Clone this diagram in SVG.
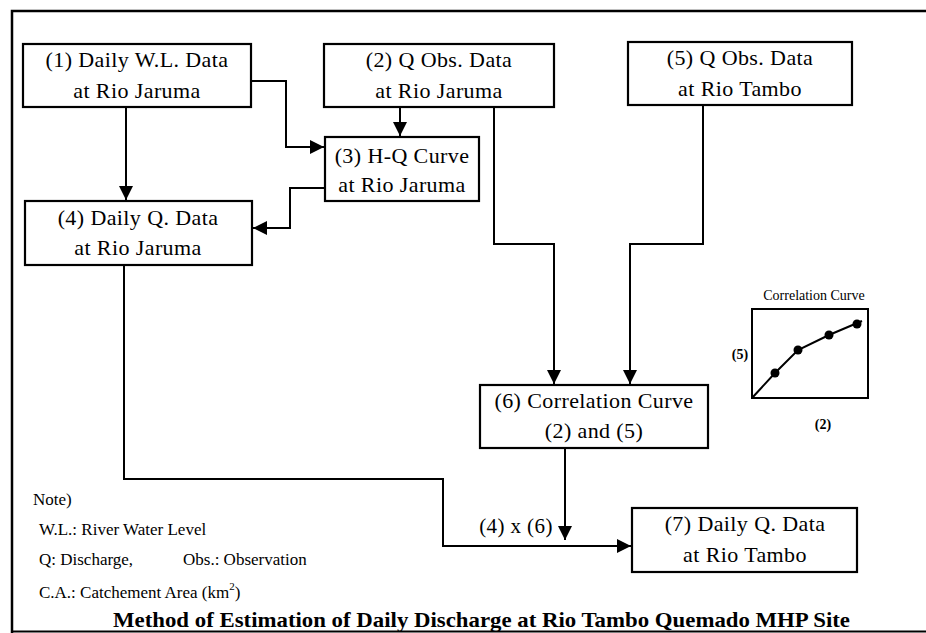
<svg xmlns="http://www.w3.org/2000/svg" width="926" height="633" viewBox="0 0 926 633">
<style>
.box{fill:#fff;stroke:#000;stroke-width:2.2}
.t{font-family:"Liberation Serif","Times New Roman",serif;font-size:22px;letter-spacing:0.4px;fill:#000;text-anchor:middle}
.n{font-family:"Liberation Serif","Times New Roman",serif;font-size:17px;fill:#000}
.c{fill:none;stroke:#000;stroke-width:2}
.s{font-family:"Liberation Serif","Times New Roman",serif;font-size:14px;fill:#000;text-anchor:middle}
</style>
<defs>
<marker id="ah" viewBox="0 0 14 14" refX="14" refY="7" markerWidth="14" markerHeight="14" markerUnits="userSpaceOnUse" orient="auto">
<path d="M0,0 L14,7 L0,14 Z" fill="#000"/>
</marker>
</defs>
<rect width="926" height="633" fill="#fff"/>
<g id="frame">
<path d="M12,633 V11 H926" fill="none" stroke="#000" stroke-width="2.5"/>
<path d="M12,631.5 H926" fill="none" stroke="#000" stroke-width="2"/>
</g>
<g id="connectors">
<path class="c" d="M251,81 H286 V147 H324" marker-end="url(#ah)"/>
<path class="c" d="M400,107 V136" marker-end="url(#ah)"/>
<path class="c" d="M126,107 V200" marker-end="url(#ah)"/>
<path class="c" d="M325,188 H290 V228 H253" marker-end="url(#ah)"/>
<path class="c" d="M124,265 V479 H443 V546 H631" marker-end="url(#ah)"/>
<path class="c" d="M494,107 V244 H554 V384" marker-end="url(#ah)"/>
<path class="c" d="M703,105 V244 H630 V384" marker-end="url(#ah)"/>
<path class="c" d="M565,448 V540" marker-end="url(#ah)"/>
<text class="t" x="516" y="533" style="font-size:21px">(4) x (6)</text>
</g>
<g id="n1"><rect class="box" x="23" y="44" width="228" height="63"/>
<text class="t" x="137" y="67">(1) Daily W.L. Data</text><text class="t" x="137" y="98">at Rio Jaruma</text></g>
<g id="n2"><rect class="box" x="324" y="44" width="230" height="63"/>
<text class="t" x="439" y="67">(2) Q Obs. Data</text><text class="t" x="439" y="98">at Rio Jaruma</text></g>
<g id="n5"><rect class="box" x="628" y="42" width="224" height="63"/>
<text class="t" x="740" y="65">(5) Q Obs. Data</text><text class="t" x="740" y="96">at Rio Tambo</text></g>
<g id="n3"><rect class="box" x="325" y="137" width="154" height="64"/>
<text class="t" x="402" y="163">(3) H-Q Curve</text><text class="t" x="402" y="192">at Rio Jaruma</text></g>
<g id="n4"><rect class="box" x="25" y="201" width="227" height="64"/>
<text class="t" x="138" y="225">(4) Daily Q. Data</text><text class="t" x="138" y="255">at Rio Jaruma</text></g>
<g id="n6"><rect class="box" x="480" y="385" width="228" height="63"/>
<text class="t" x="594" y="408">(6) Correlation Curve</text><text class="t" x="594" y="438">(2) and (5)</text></g>
<g id="n7"><rect class="box" x="632" y="508" width="225" height="64"/>
<text class="t" x="745" y="531">(7) Daily Q. Data</text><text class="t" x="745" y="562">at Rio Tambo</text></g>
<g id="inset">
<text class="s" x="814" y="300">Correlation Curve</text>
<rect x="752" y="309" width="116" height="89" fill="none" stroke="#000" stroke-width="2"/>
<path d="M752,398 L775,373 L798,350 L829,335 L862,321" fill="none" stroke="#000" stroke-width="2"/>
<circle cx="775" cy="373" r="4.5"/><circle cx="798" cy="350" r="4.5"/><circle cx="829" cy="335" r="4.5"/><circle cx="857" cy="324" r="4.5"/>
<text class="s" x="740" y="359" font-weight="bold">(5)</text>
<text class="s" x="823" y="429" font-weight="bold">(2)</text>
</g>
<g id="notes">
<text class="n" x="33" y="505">Note)</text>
<text class="n" x="39" y="535">W.L.: River Water Level</text>
<text class="n" x="39" y="565">Q: Discharge,</text>
<text class="n" x="183" y="565">Obs.: Observation</text>
<text class="n" x="39" y="598">C.A.: Catchement Area (km<tspan dy="-8" font-size="11">2</tspan><tspan dy="8">)</tspan></text>
<text x="113" y="627" font-family="Liberation Serif, Times New Roman, serif" font-size="22" font-weight="bold" textLength="737" lengthAdjust="spacingAndGlyphs">Method of Estimation of Daily Discharge at Rio Tambo Quemado MHP Site</text>
</g>
</svg>
